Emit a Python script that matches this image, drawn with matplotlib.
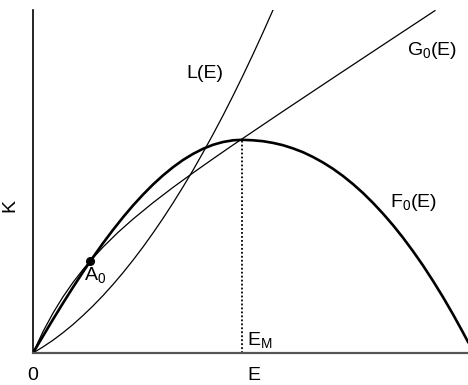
import matplotlib
matplotlib.use('Agg')
import matplotlib.pyplot as plt

plt.rcParams['font.family'] = ['Liberation Sans', 'DejaVu Sans']
plt.rcParams['mathtext.fontset'] = 'custom'
plt.rcParams['mathtext.rm'] = 'Liberation Sans'
plt.rcParams['mathtext.it'] = 'Liberation Sans'

# F0(E): production curve (thick), peak at E_M
f_e = [0, 10, 20, 30, 40, 50, 60, 70, 80, 90, 100, 110, 120, 130, 140, 150,
       160, 170, 180, 190, 200, 209, 220, 230, 240, 250, 260, 270, 280, 290,
       300, 310, 320, 330, 340, 350, 360, 370, 380, 390, 400, 410, 420, 430, 435]
f_k = [0, 16.9, 33.6, 49.9, 65.7, 81.0, 95.7, 109.8, 123.1, 135.7, 147.5,
       158.4, 168.5, 177.6, 185.8, 193.0, 199.1, 204.2, 208.2, 211.0, 212.7,
       213.2, 212.7, 211.8, 210.1, 207.8, 204.6, 200.8, 196.0, 190.5, 184.2,
       177.0, 168.9, 160.0, 150.1, 139.4, 127.8, 115.3, 101.8, 87.5, 72.1,
       55.9, 38.7, 20.5, 11.1]

# G0(E): concave curve crossing F0 at A0
g_e = [0, 10, 20, 30, 40, 50, 57, 70, 85, 100, 120, 140, 160, 180, 200,
       250, 300, 350, 402]
g_k = [0, 21.4, 39.9, 56.2, 70.6, 83.5, 91.8, 105.9, 120.6, 133.9, 150.3,
       165.6, 180.1, 194.2, 208.0, 241.7, 275.0, 308.1, 342.4]

# L(E): convex curve
l_e = [0, 10, 20, 30, 40, 50, 60, 70, 80, 90, 100, 110, 120, 130, 140, 150,
       160, 170, 180, 190, 200, 210, 220, 230, 240]
l_k = [0, 6.1, 12.8, 20.3, 28.5, 37.5, 47.1, 57.4, 68.5, 80.3, 92.8, 106.0,
       120.0, 134.6, 150.0, 166.1, 182.8, 200.4, 218.6, 237.5, 257.2, 277.6,
       298.7, 320.5, 343.0]

a0 = (57, 91.6)
e_m = 209
f_max = 213.2

fig = plt.figure(figsize=(4.68, 3.85), dpi=100)
ax = fig.add_axes([33 / 468, 32 / 385, 435 / 468, 343 / 385])
ax.set_xlim(0, 435)
ax.set_ylim(0, 343)

ax.plot(f_e, f_k, color='black', lw=1.9)
ax.plot(g_e, g_k, color='black', lw=0.9)
ax.plot(l_e, l_k, color='black', lw=0.9)
ax.plot([e_m, e_m], [0, f_max], color='black', lw=1.3, linestyle=(0, (1, 1.2)))
ax.plot(*a0, 'o', color='black', markersize=5.5)

fs = 14
ax.text(172, 275, 'L(E)', fontsize=fs, ha='center', va='baseline')
ax.text(399, 298, r'$\mathrm{G_0(E)}$', fontsize=fs, ha='center', va='baseline')
ax.text(380, 146, r'$\mathrm{F_0(E)}$', fontsize=fs, ha='center', va='baseline')
ax.text(51, 73, r'$\mathrm{A_0}$', fontsize=fs, ha='left', va='baseline')
ax.text(214, 8, r'$\mathrm{E_M}$', fontsize=fs, ha='left', va='baseline')
ax.text(214, -27, 'E', fontsize=fs, ha='left', va='baseline')
ax.text(0, -27, '0', fontsize=fs, ha='center', va='baseline')
ax.text(-23, 148, 'K', fontsize=fs, ha='center', va='center', rotation=90)

ax.set_xticks([])
ax.set_yticks([])
ax.spines['top'].set_visible(False)
ax.spines['right'].set_visible(False)
ax.spines['left'].set_color('black')
ax.spines['left'].set_linewidth(1.2)
ax.spines['bottom'].set_color('#555555')
ax.spines['bottom'].set_linewidth(1.6)

fig.savefig('out.png', dpi=100)
